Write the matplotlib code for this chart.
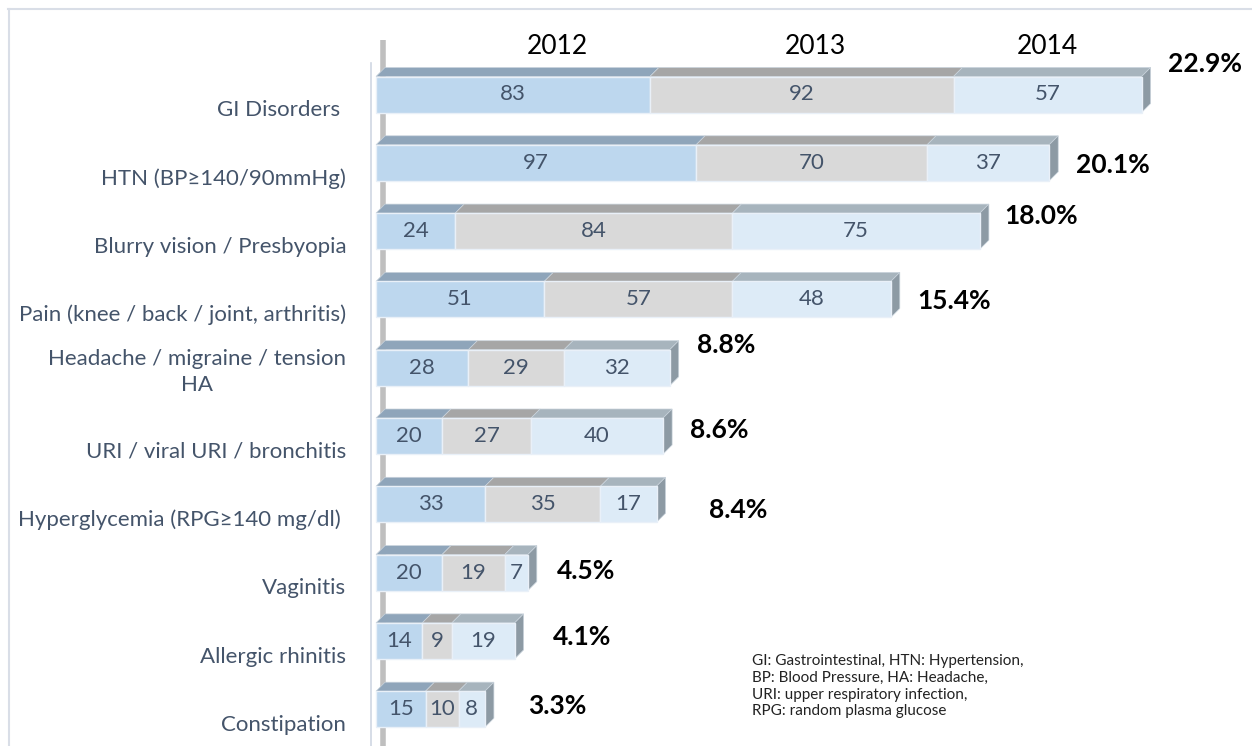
import matplotlib.pyplot as plt
from matplotlib.patches import Polygon
from matplotlib.lines import Line2D

plt.rcParams['font.family'] = ['Lato', 'DejaVu Sans']

# data
categories = ['GI Disorders ', 'HTN (BP≥140/90mmHg)', 'Blurry vision / Presbyopia',
              'Pain (knee / back / joint, arthritis)', 'Headache / migraine / tension\nHA',
              'URI / viral URI / bronchitis', 'Hyperglycemia (RPG≥140 mg/dl) ',
              'Vaginitis', 'Allergic rhinitis', 'Constipation']
years = ['2012', '2013', '2014']
v2012 = [83, 97, 24, 51, 28, 20, 33, 20, 14, 15]
v2013 = [92, 70, 84, 57, 29, 27, 35, 19, 9, 10]
v2014 = [57, 37, 75, 48, 32, 40, 17, 7, 19, 8]
pct_labels = ['22.9%', '20.1%', '18.0%', '15.4%', '8.8%', '8.6%', '8.4%', '4.5%', '4.1%', '3.3%']
footnote = ('GI: Gastrointestinal, HTN: Hypertension,\nBP: Blood Pressure, HA: Headache,\n'
            'URI: upper respiratory infection,\nRPG: random plasma glucose')

# styles
front_cols = ['#BDD7EE', '#D9D9D9', '#DDEBF7']
top_cols = ['#8FA5BA', '#A6A6A6', '#A7B4BD']
side_col = '#8D9AA4'
txt_col = '#44546A'
# pct label offsets in pixels (dx from bar end, dy from bar centre)
pct_off = [(26, -31), (27, 2), (24, -15), (26, 2), (27, -23),
           (27, -6), (53, 6), (29, -2), (38, -4), (43, -3)]
lab_dy = [0.23] * 10
lab_dy[4] = 0.06

W, H = 1252, 746
x0px, pxu = 376, 3.3          # pixel of zero, pixels per unit
y0px, pxr = 94.5, 68.3        # pixel of first row, pixels per row

fig = plt.figure(figsize=(W / 100, H / 100), dpi=100)
ax = fig.add_axes([0, 0, 1, 1])
ax.set_xlim(-x0px / pxu, (W - x0px) / pxu)
ax.set_ylim((H - y0px) / pxr, -y0px / pxr)
ax.axis('off')

dx = 9 / pxu
dy = 9 / pxr
hh = 18 / pxr

# frame and axis line
fig.add_artist(Line2D([8 / W, 1], [1 - 9 / H, 1 - 9 / H], color='#D9DEE7', lw=1.5))
fig.add_artist(Line2D([9 / W, 9 / W], [0, 1 - 9 / H], color='#D9DEE7', lw=1.5))
ax.plot([-1.5, -1.5], [-32 / pxr, ax.get_ylim()[0]], color='#D0D7E3', lw=1.2)
# back wall edge
ax.plot([2.2, 2.2], [-55 / pxr, ax.get_ylim()[0]], color='#BFBFBF', lw=4, zorder=1,
        solid_capstyle='butt')

series = [v2012, v2013, v2014]
for i in range(len(categories)):
    left = 0
    for s, vals in enumerate(series):
        v = vals[i]
        top = i - hh
        ax.add_patch(Polygon([(left, top), (left + v, top), (left + v + dx, top - dy),
                              (left + dx, top - dy)], closed=True,
                             facecolor=top_cols[s], edgecolor='#C9D3DC', lw=0.5, zorder=3))
        ax.barh(i, v, left=left, height=2 * hh, color=front_cols[s],
                edgecolor='#E9F0F8', lw=1, zorder=4)
        ax.text(left + v / 2, i, str(v), ha='center', va='center', fontsize=16,
                color=txt_col, zorder=5)
        left += v
    ax.add_patch(Polygon([(left, i - hh), (left + dx, i - hh - dy), (left + dx, i + hh - dy),
                          (left, i + hh)], closed=True, facecolor=side_col,
                         edgecolor='#C9D3DC', lw=0.5, zorder=3))
    ax.text(-9, i + lab_dy[i], categories[i], ha='right', va='center', fontsize=16,
            color=txt_col, multialignment='center', linespacing=1.35)
    ox, oy = pct_off[i]
    ax.annotate(pct_labels[i], (left, i), xytext=(ox * 0.72, -oy * 0.72),
                textcoords='offset points', ha='left', va='center', fontsize=19,
                fontweight='bold', color='black')

# year headers
for yr, xp in zip(years, [557, 815, 1047]):
    fig.text(xp / W, 1 - 47 / H, yr, ha='center', va='center', fontsize=19, color='black')

fig.text(752 / W, 1 - 654 / H, footnote, ha='left', va='top', fontsize=11,
         color='#222222', linespacing=1.25)

fig.savefig('out.png', dpi=100)
